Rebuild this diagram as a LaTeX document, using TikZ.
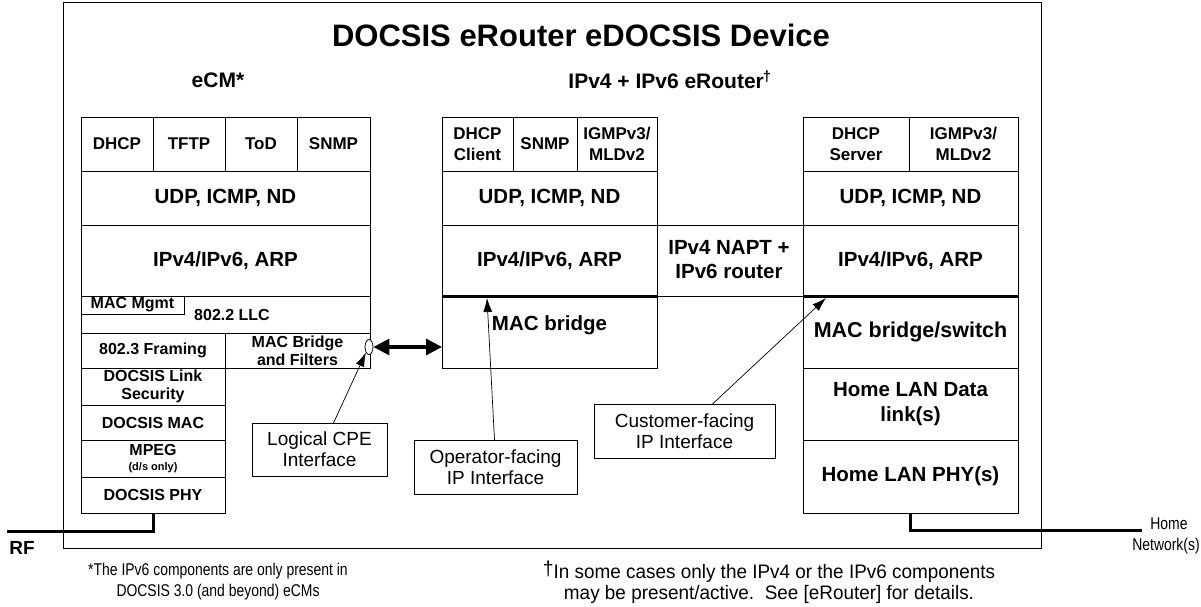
\documentclass[tikz,border=0pt]{standalone}
\usepackage{fontspec}
\setmainfont{Liberation Sans}
\newfontfamily\narrowfont[FakeStretch=0.82]{Liberation Sans}
\newfontfamily\semifont[FakeStretch=0.97]{Liberation Sans}
\usetikzlibrary{shapes.geometric,arrows.meta,calc}
\begin{document}
\begin{tikzpicture}[x=1pt,y=-1pt,
  cell/.style={draw, line width=0.8pt, inner sep=0pt, outer sep=0pt, anchor=north west, align=center, font=\bfseries\fontsize{16}{18}\selectfont},
  topcell/.style={cell, font=\bfseries\fontsize{17}{21}\selectfont},
  bigcell/.style={cell, font=\bfseries\fontsize{20.5}{25}\selectfont},
  bigtext/.style={inner sep=0pt, align=center, font=\bfseries\fontsize{20.5}{24}\selectfont},
  lblbox/.style={draw, line width=0.8pt, inner sep=0pt, outer sep=0pt, anchor=north west, align=center, font=\fontsize{19}{21}\selectfont},
  heavy/.style={line width=3pt},
  pointer/.style={line width=0.7pt, -{Latex[length=14pt,width=9pt]}},
  dblarrow/.style={line width=3.2pt, {Triangle[length=16pt,width=16pt]}-{Triangle[length=16pt,width=16pt]}},
  foot/.style={inner sep=0pt, align=center, font=\narrowfont\fontsize{17}{21}\selectfont},
  footr/.style={inner sep=0pt, align=center, font=\semifont\fontsize{19.5}{21}\selectfont}
]
\useasboundingbox (0,0) rectangle (1201,607);
% outer device box
\node[draw, line width=0.8pt, inner sep=0pt, outer sep=0pt, anchor=north west, minimum width=978pt, minimum height=546pt] (dev) at (63,2) {};
\node[inner sep=0pt, font=\bfseries\fontsize{31}{36}\selectfont] (title) at (581,35) {DOCSIS eRouter eDOCSIS Device};
\node[inner sep=0pt, font=\bfseries\fontsize{21}{24}\selectfont] (ecmt) at (218,80) {eCM*};
\node[inner sep=0pt, font=\bfseries\fontsize{21}{24}\selectfont] (ert) at (670,80) {IPv4 + IPv6 eRouter\textsuperscript{\kern-1pt†}};

% eCM stack
\node[topcell, minimum width=72pt, minimum height=54pt] (dhcp) at (81,117) {DHCP};
\node[topcell, minimum width=72pt, minimum height=54pt] (tftp) at (153,117) {TFTP};
\node[topcell, minimum width=72pt, minimum height=54pt] (tod) at (225,117) {ToD};
\node[topcell, minimum width=73pt, minimum height=54pt] (snmp) at (297,117) {SNMP};
\node[bigcell, minimum width=289pt, minimum height=54pt] (udp1) at (81,171) {UDP, ICMP, ND};
\node[bigcell, minimum width=289pt, minimum height=71pt] (ip1) at (81,225) {IPv4/IPv6, ARP};
\node[cell, minimum width=289pt, minimum height=37pt] (llc) at (81,296) {};
\node[inner sep=0pt, font=\bfseries\fontsize{16}{18}\selectfont] (llct) at (232,315) {802.2 LLC};
\node[cell, font=\bfseries\fontsize{16}{17}\selectfont, minimum width=103pt, minimum height=18pt] (mgmt) at (81,296) {MAC Mgmt};
\node[cell, minimum width=144pt, minimum height=35pt] (fram) at (81,333) {802.3 Framing};
\node[cell, minimum width=145pt, minimum height=35pt] (brf) at (225,333) {MAC Bridge\\and Filters};
\node[cell, minimum width=144pt, minimum height=37pt] (lsec) at (81,368) {DOCSIS Link\\Security};
\node[cell, minimum width=144pt, minimum height=35pt] (dmac) at (81,405) {DOCSIS MAC};
\node[cell, minimum width=144pt, minimum height=37pt] (mpeg) at (81,440) {MPEG\\[-3pt]{\fontsize{11}{12}\selectfont (d/s only)}};
\node[cell, minimum width=144pt, minimum height=36pt] (dphy) at (81,477) {DOCSIS PHY};

% operator-side eRouter stack
\node[topcell, minimum width=71pt, minimum height=54pt] (dhcpc) at (442,117) {DHCP\\Client};
\node[topcell, minimum width=64pt, minimum height=54pt] (snmp2) at (513,117) {SNMP};
\node[topcell, minimum width=80pt, minimum height=54pt] (igmp2) at (577,117) {IGMPv3/\\MLDv2};
\node[bigcell, minimum width=215pt, minimum height=54pt] (udp2) at (442,171) {UDP, ICMP, ND};
\node[bigcell, minimum width=215pt, minimum height=71pt] (ip2) at (442,225) {IPv4/IPv6, ARP};
\node[cell, minimum width=215pt, minimum height=72pt] (mac2) at (442,296) {};
\node[bigtext] (mac2t) at ($(mac2.north)+(0,29)$) {MAC bridge};

% customer-side eRouter stack
\node[topcell, minimum width=106pt, minimum height=54pt] (dhcps) at (803,117) {DHCP\\Server};
\node[topcell, minimum width=109pt, minimum height=54pt] (igmp3) at (909,117) {IGMPv3/\\MLDv2};
\node[bigcell, minimum width=215pt, minimum height=54pt] (udp3) at (803,171) {UDP, ICMP, ND};
\node[bigcell, minimum width=215pt, minimum height=71pt] (ip3) at (803,225) {IPv4/IPv6, ARP};
\node[bigcell, font=\bfseries\fontsize{21.5}{25}\selectfont, minimum width=215pt, minimum height=72pt] (mac3) at (803,296) {MAC bridge/switch};
\node[bigcell, minimum width=215pt, minimum height=72pt] (lan3) at (803,368) {Home LAN Data\\link(s)};
\node[bigcell, minimum width=215pt, minimum height=73pt] (phy3) at (803,440) {Home LAN PHY(s)};

% NAPT region between the stacks
\draw[line width=0.8pt] (ip2.north east) -- (ip3.north west);
\draw[line width=0.8pt] (ip2.south east) -- (ip3.south west);
\node[bigtext] (napt) at (729,260) {IPv4 NAPT +\\IPv6 router};
\draw[heavy] (ip2.south west) -- (ip2.south east);
\draw[heavy] (ip3.south west) -- (ip3.south east);

% logical CPE interface and link to eRouter
\node[draw, line width=0.8pt, fill=white, ellipse, inner sep=0pt, minimum width=8pt, minimum height=15pt] (ell) at (369,347) {};
\draw[dblarrow] (ell.east) -- (ell.east -| mac2.west);

% label boxes
\node[lblbox, minimum width=135pt, minimum height=53pt] (cpe) at (252,423) {Logical CPE\\Interface};
\node[lblbox, minimum width=163pt, minimum height=54pt] (opf) at (414,440) {Operator-facing\\IP Interface};
\node[lblbox, minimum width=181pt, minimum height=54pt] (cuf) at (594,404) {Customer-facing\\IP Interface};
\coordinate (opftip) at (487,298);
\coordinate (cuftip) at (826,298);
\draw[pointer] ($(cpe.north)+(14,0)$) -- (ell.south west);
\draw[pointer] ($(opf.north)+(-1,0)$) -- (opftip);
\draw[pointer] ($(cuf.north)+(28,0)$) -- (cuftip);

% external connections
\coordinate (rfend) at (7,531);
\coordinate (homeend) at (1142,530);
\draw[heavy] (dphy.south) -- (dphy.south |- rfend) -- (rfend);
\draw[heavy] ($(phy3.south west)+(107,0)$) |- (homeend);
\node[inner sep=0pt, font=\bfseries\fontsize{19}{21}\selectfont] (rf) at (22,548) {RF};
\node[foot] (home) at (1169,524) {Home};
\node[foot] (homenet) at (1166,546) {Network(s)};

% footnotes
\node[foot] (fn1) at (218,582) {*The IPv6 components are only present in\\DOCSIS 3.0 (and beyond) eCMs};
\node[footr] (fn2) at (769,582) {\raisebox{3pt}{\fontsize{20}{20}\selectfont †}In some cases only the IPv4 or the IPv6 components\\may be present/active.\ \ See [eRouter] for details.};
\end{tikzpicture}
\end{document}
